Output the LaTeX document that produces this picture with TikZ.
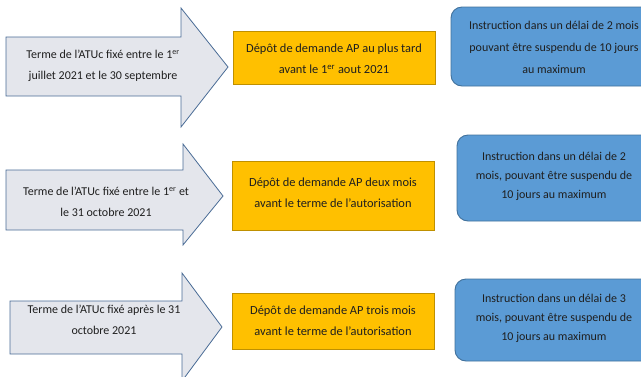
\documentclass[tikz,border=0pt]{standalone}
\usepackage{fontspec}
\setmainfont{Carlito}
\definecolor{arrowfill}{HTML}{E4E6EC}
\definecolor{arrowline}{HTML}{4A6C96}
\definecolor{orangefill}{HTML}{FFC000}
\definecolor{orangeline}{HTML}{BF9000}
\definecolor{bluefill}{HTML}{5B9BD5}
\definecolor{blueline}{HTML}{41719C}
\definecolor{txt}{HTML}{1F1F1F}
\tikzset{
  arrowshape/.style={fill=arrowfill, draw=arrowline, line width=0.8pt, line join=miter},
  arrowtext/.style={text=txt, align=center, font=\fontsize{12}{20.5}\selectfont, inner sep=0pt},
  orangebox/.style={fill=orangefill, draw=orangeline, line width=0.8pt, text=txt, align=center, font=\fontsize{12.4}{21}\selectfont},
  bluebox/.style={fill=bluefill, draw=blueline, line width=0.9pt, rounded corners=11pt, text=txt, align=center, font=\fontsize{12}{19}\selectfont},
}
\begin{document}
\begin{tikzpicture}[x=1pt, y=-1pt]
\useasboundingbox (0,0) rectangle (641,376);
% Row 1
\draw[arrowshape] (6,37) -- (181,37) -- (181,8) -- (228,67) -- (181,127) -- (181,96) -- (6,96) -- cycle;
\node[arrowtext] (a1) at (103,66) {Terme de l’ATUc fixé entre le 1\textsuperscript{er}\\juillet 2021 et le 30 septembre};
\path[orangebox] (233,31) rectangle (435,84);
\node[orangebox, draw=none, fill=none] (o1) at (334,59) {Dépôt de demande AP au plus tard\\avant le 1\textsuperscript{er} aout 2021};
\path[bluebox] (451,7) rectangle (657,86);
\node[bluebox, draw=none, fill=none, font=\fontsize{12}{22}\selectfont] (b1) at (554,47) {Instruction dans un délai de 2 mois\\pouvant être suspendu de 10 jours\\au maximum};
% Row 2
\draw[arrowshape] (6,170) -- (183,170) -- (183,144) -- (223,196) -- (183,245) -- (183,230) -- (6,230) -- cycle;
\node[arrowtext] (a2) at (106,202) {Terme de l’ATUc fixé entre le 1\textsuperscript{er} et\\le 31 octobre 2021};
\path[orangebox] (232,161) rectangle (434,230);
\node[orangebox, draw=none, fill=none] (o2) at (333,193) {Dépôt de demande AP deux mois\\avant le terme de l’autorisation};
\path[bluebox] (457,135) rectangle (652,221);
\node[bluebox, draw=none, fill=none] (b2) at (554,176) {Instruction dans un délai de 2\\mois, pouvant être suspendu de\\10 jours au maximum};
% Row 3
\draw[arrowshape] (10,301) -- (182,301) -- (182,273) -- (222,327) -- (182,381) -- (182,354) -- (10,354) -- cycle;
\node[arrowtext] (a3) at (104,320) {Terme de l’ATUc fixé après le 31\\octobre 2021};
\path[orangebox] (232,293) rectangle (434,349);
\node[orangebox, draw=none, fill=none] (o3) at (333,321) {Dépôt de demande AP trois mois\\avant le terme de l’autorisation};
\path[bluebox] (455,279) rectangle (652,361);
\node[bluebox, draw=none, fill=none] (b3) at (554,318) {Instruction dans un délai de 3\\mois, pouvant être suspendu de\\10 jours au maximum};
\end{tikzpicture}
\end{document}
